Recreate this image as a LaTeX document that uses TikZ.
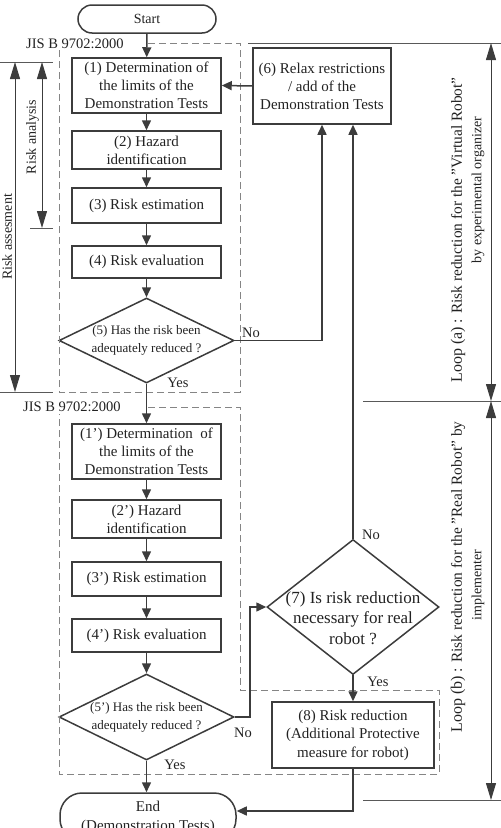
\documentclass[tikz,border=0pt]{standalone}
\usepackage{fontspec}
\setmainfont{Liberation Serif}
\usetikzlibrary{shapes.geometric,arrows.meta}
\definecolor{ink}{HTML}{3C3C3C}
\definecolor{txt}{HTML}{222222}
\definecolor{dashgray}{HTML}{858585}
\newcommand\fsz[2]{\fontsize{#1}{#2}\selectfont}
\tikzset{box/.style={draw=ink, line width=1.5pt, text=txt, align=center, minimum width=149pt, inner sep=2pt, font=\fsz{15}{18}},
  term/.style={box, rounded corners=14pt},
  dec/.style={diamond, draw=ink, line width=1.5pt, text=txt, align=center, aspect=2, inner sep=-12pt},
  lbl/.style={text=txt, inner sep=1pt, font=\fsz{14.5}{17}},
  side/.style={text=txt, inner sep=1pt, rotate=90, font=\fsz{14}{17}},
  flow/.style={draw=ink, line width=1.5pt, -{Triangle[length=10pt,width=9pt]}},
  frame/.style={draw=dashgray, line width=1pt, dash pattern=on 7pt off 4pt},
  limit/.style={draw=ink!85, line width=1pt},
  span/.style={draw=ink, line width=1pt, {Triangle[length=17pt,width=10pt]}-{Triangle[length=17pt,width=10pt]}}}

\begin{document}
\begin{tikzpicture}[x=1pt, y=-1pt]
  \path[use as bounding box] (0,0) rectangle (501,828);
  \clip (0,0) rectangle (501,828);

  \node[term, minimum width=138pt, minimum height=28pt, font=\fsz{14}{17}] (s) at (147,19) {Start};
  \node[lbl, anchor=west] (j1) at (25,44) {JIS B 9702:2000};
  \node[box, minimum height=55pt] (b1) at (146.5,85.5) {(1) Determination of\\the limits of the\\Demonstration Tests};
  \node[box, minimum height=38pt] (b2) at (146.5,150) {(2) Hazard\\identification};
  \node[box, minimum height=35pt] (b3) at (146.5,205.5) {(3) Risk estimation};
  \node[box, minimum height=32pt] (b4) at (146.5,262) {(4) Risk evaluation};
  \node[dec, minimum width=175pt, minimum height=85pt, font=\fsz{13}{18}] (d5) at (146.5,340.5) {(5) Has the risk been\\adequately reduced ?};
  \node[box, minimum width=138pt, minimum height=76pt] (b6) at (322,86) {(6) Relax restrictions\\/ add of the\\Demonstration Tests};

  \node[lbl, anchor=west] (j2) at (22,407) {JIS B 9702:2000};
  \node[box, minimum height=55pt] (c1) at (146.5,451.5) {(1') Determination~ of\\the limits of the\\Demonstration Tests};
  \node[box, minimum height=38pt] (c2) at (146.5,519) {(2') Hazard\\identification};
  \node[box, minimum height=34pt] (c3) at (146.5,579) {(3') Risk estimation};
  \node[box, minimum height=33pt] (c4) at (146.5,635.5) {(4') Risk evaluation};
  \node[dec, minimum width=175pt, minimum height=86pt, font=\fsz{13}{18}] (e5) at (146.5,717) {(5') Has the risk been\\adequately reduced ?};
  \node[dec, minimum width=172pt, minimum height=135pt,
    label={[text=txt, align=center, font=\fsz{17}{20.5}, yshift=-11pt]center:{(7) Is risk reduction\\necessary for real\\robot ?}}] (d7) at (353,607) {};
  \node[box, minimum width=162pt, minimum height=66pt, font=\fsz{15}{18.5}] (b8) at (353,735) {(8) Risk reduction\\(Additional Protective\\measure for robot)};
  \node[term, minimum width=176pt, minimum height=48pt, rounded corners=22pt, font=\fsz{15}{19}] (e) at (148,817) {End\\(Demonstration Tests)};

  \node[lbl] (n5) at (251,333) {No};
  \node[lbl] (y5) at (178,383) {Yes};
  \node[lbl] (n7) at (371,535) {No};
  \node[lbl] (y7) at (378,682) {Yes};
  \node[lbl] (n5p) at (243,733) {No};
  \node[lbl] (y5p) at (175,765) {Yes};

  \node[side] (ras) at (7,237) {Risk assesment};
  \node[side] (ran) at (32.5,137) {Risk analysis};
  \node[side, font=\fsz{15.4}{18}] (la1) at (458,230) {{\fsz{16}{18}Loop (a)} : Risk reduction for the "Virtual Robot"};
  \node[side] (la2) at (478,190) {by experimental organizer};
  \node[side, font=\fsz{15.4}{18}] (lb1) at (458,577) {{\fsz{16}{18}Loop (b)} : Risk reduction for the "Real Robot" by};
  \node[side] (lb2) at (478,585) {implementer};

  \coordinate (k) at (250,717);
  \coordinate (p1) at (15,62);
  \coordinate (p2) at (15,392);
  \coordinate (q1) at (42,62);
  \coordinate (q2) at (42,228);
  \coordinate (r1) at (491,43);
  \coordinate (r2) at (491,401);
  \coordinate (r3) at (491,800);

  \draw[frame] (148,43) -- (240,43) -- (240,392) -- (59,392) -- (59,50);
  \draw[frame] (148,407) -- (240,407) -- (240,690) -- (439,690) -- (439,774) -- (59,774) -- (59,414);

  \draw[flow] (s) -- (b1);
  \draw[flow] (b1) -- (b2);
  \draw[flow] (b2) -- (b3);
  \draw[flow] (b3) -- (b4);
  \draw[flow] (b4) -- (d5);
  \draw[flow] (b6.west) -- (b1.east);
  \draw[flow] (d5.east) -| (b6.south);
  \draw[flow] (d5) -- (c1);
  \draw[flow] (c1) -- (c2);
  \draw[flow] (c2) -- (c3);
  \draw[flow] (c3) -- (c4);
  \draw[flow] (c4) -- (e5);
  \draw[flow] (e5.south) -- (e5.south |- e.north);
  \draw[flow] (e5.east) -- (k) |- (d7.west);
  \draw[flow] (d7.north) -- (d7.north |- b6.south);
  \draw[flow] (d7) -- (b8);
  \draw[flow] (b8.south) |- ([yshift=6pt]e.east);

  \draw[limit] (0,62) -- (53,62);
  \draw[limit] (30,228) -- (53,228);
  \draw[limit] (0,392) -- (53,392);
  \draw[limit] (248,43) -- (501,43);
  \draw[limit] (363,401) -- (501,401);
  \draw[limit] (363,800) -- (501,800);
  \draw[span] (p1) -- (p2);
  \draw[span] (q1) -- (q2);
  \draw[span] (r1) -- (r2);
  \draw[span] (r2) -- (r3);
\end{tikzpicture}
\end{document}
